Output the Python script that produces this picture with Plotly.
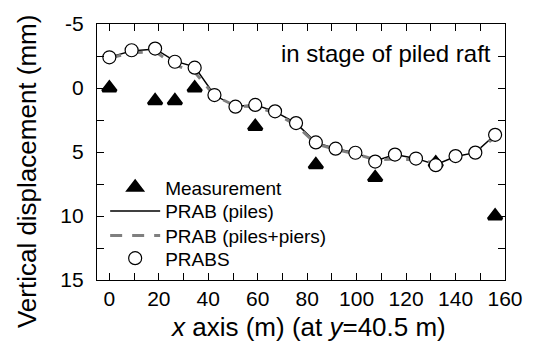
import plotly.graph_objects as go

# Horizontal positions along the section (m)
x_prabs = [0, 9, 18.5, 26.5, 34.5, 42.5, 51, 59, 67, 75.5, 83.5, 91.5,
           99.5, 107.5, 115.5, 124, 132, 140, 148, 156]

# PRABS results (mm, positive = settlement)
y_prabs = [-2.4, -2.95, -3.08, -2.05, -1.59, 0.55, 1.46, 1.32, 1.82, 2.74,
           4.25, 4.74, 5.06, 5.75, 5.2, 5.51, 6.03, 5.32, 5.05, 3.66]

# PRAB with piles only
y_piles = [-2.4, -2.9, -3.05, -2.1, -1.65, 0.55, 1.45, 1.3, 1.85, 2.75,
           4.25, 4.75, 5.05, 5.7, 5.2, 5.5, 6.0, 5.35, 5.05, 3.65]

# PRAB with piles and piers
y_piers = [-2.35, -2.75, -2.85, -1.8, -1.25, 0.6, 1.4, 1.45, 1.95, 2.9,
           4.35, 4.8, 5.15, 5.6, 5.55, 5.6, 5.85, 5.4, 5.0, 3.85]

# Field measurements
x_meas = [0, 18.5, 26.5, 34.5, 59, 83.5, 107.5, 132, 156]
y_meas = [0, 1, 1, 0, 3, 6, 7, 5.85, 10]

x_ticks = list(range(0, 161, 10))
x_text = [str(v) if v % 20 == 0 else "" for v in x_ticks]
y_ticks = [-5, -2.5, 0, 2.5, 5, 7.5, 10, 12.5, 15]
y_text = ["-5", "", "0", "", "5", "", "10", "", "15"]

FONT = "Arial, Liberation Sans, sans-serif"

fig = go.Figure()
fig.add_trace(go.Scatter(
    x=x_meas, y=y_meas, mode="markers", name="Measurement", legend="legend",
    marker=dict(symbol="triangle-up", size=12, color="black",
                line=dict(color="black", width=3)),
))
fig.add_trace(go.Scatter(
    x=x_prabs, y=y_piles, mode="lines", name="PRAB (piles)", legend="legend2",
    line=dict(color="black", width=1.5),
))
fig.add_trace(go.Scatter(
    x=x_prabs, y=y_piers, mode="lines", name="PRAB (piles+piers)",
    legend="legend3",
    line=dict(color="#7f7f7f", width=3, dash="12px,10px"),
))
fig.add_trace(go.Scatter(
    x=x_prabs, y=y_prabs, mode="markers", name="PRABS", legend="legend4",
    marker=dict(symbol="circle", size=13, color="white",
                line=dict(color="black", width=1.2)),
))

axis_common = dict(
    showline=True, linecolor="black", linewidth=1.3, mirror="allticks",
    ticks="inside", ticklen=7, tickwidth=1.2, tickcolor="black",
    showgrid=False, zeroline=False,
    tickfont=dict(family=FONT, size=21, color="black"),
)


def legend_at(y):
    return dict(
        x=0.02, y=y, xanchor="left", yanchor="middle",
        bgcolor="rgba(0,0,0,0)", borderwidth=0,
        font=dict(family=FONT, size=19, color="black"),
        itemwidth=50,
    )


fig.update_layout(
    width=536, height=349,
    margin=dict(l=97, r=31, t=20, b=69),
    paper_bgcolor="white", plot_bgcolor="white",
    font=dict(family=FONT, color="black"),
    xaxis=dict(
        range=[-5, 160], tickmode="array", tickvals=x_ticks, ticktext=x_text,
        **axis_common,
    ),
    yaxis=dict(
        range=[15, -5], tickmode="array", tickvals=y_ticks, ticktext=y_text,
        ticklabelstandoff=8,
        **axis_common,
    ),
    legend=legend_at(0.3615),
    legend2=legend_at(0.269),
    legend3=legend_at(0.173),
    legend4=legend_at(0.0846),
    showlegend=True,
    annotations=[
        dict(text="in stage of piled raft", xref="paper", yref="paper",
             x=0.97, y=0.885, xanchor="right", yanchor="middle",
             showarrow=False,
             font=dict(family=FONT, size=24, color="black")),
        dict(text="Vertical displacement (mm)", xref="paper", yref="paper",
             x=-0.173, y=0.427, xanchor="center", yanchor="middle",
             textangle=-90, showarrow=False,
             font=dict(family=FONT, size=26, color="black")),
        dict(text="<i>x</i> axis (m) (at <i>y</i>=40.5 m)",
             xref="paper", yref="paper",
             x=0.516, y=-0.182, xanchor="center", yanchor="middle",
             showarrow=False,
             font=dict(family=FONT, size=26, color="black")),
    ],
)

fig.write_html("out.html")
